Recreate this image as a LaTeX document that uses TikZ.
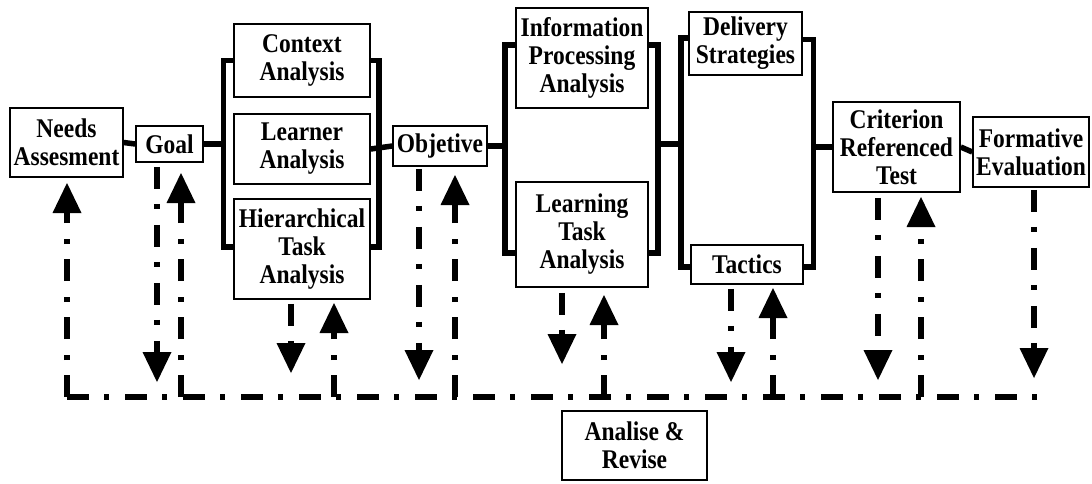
\documentclass[tikz,border=0pt]{standalone}
\usepackage{fontspec}
\setmainfont{Liberation Serif}[FakeStretch=0.87]
\usetikzlibrary{arrows.meta}
\begin{document}
\begin{tikzpicture}[x=1pt,y=-1pt,
  box/.style={draw, line width=1.5pt, fill=white, inner sep=0pt, align=center,
    font=\fontsize{27}{28}\selectfont\bfseries},
  conn/.style={line width=5.5pt},
  fb/.style={line width=6pt, dash pattern=on 22pt off 15pt on 5pt off 16pt},
  fbarrow/.style={fb, -{Triangle[width=29pt,length=30pt,line width=0pt]}}
]
\useasboundingbox (0,0) rectangle (1092,483);

% boxes
\node[box, minimum width=113pt, minimum height=69pt]  (needs)     at (66.5,142.5) {Needs\\Assesment};
\node[box, minimum width=67pt,  minimum height=36pt]  (goal)      at (169.5,144)  {Goal};
\node[box, minimum width=136pt, minimum height=73pt]  (context)   at (302,60.5)   {Context\\Analysis};
\node[box, minimum width=136pt, minimum height=70pt]  (learner)   at (302,149)    {Learner\\Analysis};
\node[box, minimum width=136pt, minimum height=100pt] (hier)      at (302,249)    {Hierarchical\\Task\\Analysis};
\node[box, minimum width=94pt,  minimum height=40pt]  (objective) at (440,146)    {Objetive};
\node[box, minimum width=132pt, minimum height=100pt] (info)      at (582,58)     {Information\\Processing\\Analysis};
\node[box, minimum width=132pt, minimum height=105pt] (learning)  at (582,234.5)  {Learning\\Task\\Analysis};
\node[box, minimum width=113pt, minimum height=63pt]  (delivery)  at (745.5,43.5) {Delivery\\Strategies};
\node[box, minimum width=112pt, minimum height=39pt]  (tactics)   at (747,264.5)  {Tactics};
\node[box, minimum width=127pt, minimum height=90pt]  (criterion) at (896.5,147)  {Criterion\\Referenced\\Test};
\node[box, minimum width=116pt, minimum height=70pt]  (formative) at (1031,152)   {Formative\\Evaluation};
\node[box, minimum width=145pt, minimum height=69pt]  (analise)   at (634.5,445.5){Analise \&\\Revise};

% bus coordinates
\coordinate (b1b) at (223.5,247);
\coordinate (b2b) at (379,247);
\coordinate (b3t) at (505,45);
\coordinate (b3b) at (505,253);
\coordinate (b4t) at (658,45);
\coordinate (b4b) at (658,253);
\coordinate (m4)  at (658,144);
\coordinate (m5)  at (681,144);
\coordinate (b5t) at (681,38);
\coordinate (b5b) at (681,267);
\coordinate (b6t) at (813.5,39.5);
\coordinate (b6b) at (813.5,267);
\coordinate (m6)  at (813.5,147);

% solid connectors
\draw[conn] (needs.east) -- (goal.west);
\draw[conn] (goal.east) -- (goal.east -| b1b);
\draw[conn] (context.west) -| (b1b) -- (b1b -| hier.west);
\draw[conn] (context.east) -| (b2b) -- (b2b -| hier.east);
\draw[conn] (learner.east) -- (objective.west);
\draw[conn] (objective.east) -- (objective.east -| b3b);
\draw[conn] (b3t -| info.west) -| (b3b) -- (b3b -| learning.west);
\draw[conn] (b4t -| info.east) -| (b4b) -- (b4b -| learning.east);
\draw[conn] (m4) -- (m5);
\draw[conn] (b5t -| delivery.west) -| (b5b) -- (b5b -| tactics.west);
\draw[conn] (b6t -| delivery.east) -| (b6b) -- (b6b -| tactics.east);
\draw[conn] (m6) -- (m6 -| criterion.west);
\draw[conn] (criterion.east) -- (formative.west);

% feedback bus
\coordinate (busL) at (67,397);
\coordinate (busR) at (1038,397);
\draw[fb] (busL) -- (busR);

% up arrows
\coordinate (needsUp) at (67,183);
\coordinate (goalUp)  at (181,173);
\coordinate (hierUp)  at (334,303);
\coordinate (objUp)   at (455,175);
\coordinate (learnUp) at (604,295);
\coordinate (tactUp)  at (773,288);
\coordinate (critUp)  at (921,197);
\draw[fbarrow] (busL) -- (needsUp);
\draw[fbarrow] (goalUp |- busL) -- (goalUp);
\draw[fbarrow] (hierUp |- busL) -- (hierUp);
\draw[fbarrow] (objUp |- busL) -- (objUp);
\draw[fbarrow] (learnUp |- busL) -- (learnUp);
\draw[fbarrow] (tactUp |- busL) -- (tactUp);
\draw[fbarrow] (critUp |- busL) -- (critUp);

% down arrows
\coordinate (goalDn)  at (157,382);
\coordinate (hierDn)  at (291,373);
\coordinate (objDn)   at (419,380);
\coordinate (learnDn) at (562,364);
\coordinate (tactDn)  at (731,382);
\coordinate (critDn)  at (878,380);
\coordinate (formDn)  at (1034,378);
\draw[fbarrow, shorten <=4pt] (goalDn |- goal.south) -- (goalDn);
\draw[fbarrow, shorten <=4pt] (hierDn |- hier.south) -- (hierDn);
\draw[fbarrow, shorten <=2pt] (objDn |- objective.south) -- (objDn);
\draw[fbarrow, shorten <=5pt] (learnDn |- learning.south) -- (learnDn);
\draw[fbarrow, shorten <=4pt] (tactDn |- tactics.south) -- (tactDn);
\draw[fbarrow, shorten <=5pt] (critDn |- criterion.south) -- (critDn);
\draw[fbarrow, shorten <=2pt] (formDn |- formative.south) -- (formDn);
\end{tikzpicture}
\end{document}
